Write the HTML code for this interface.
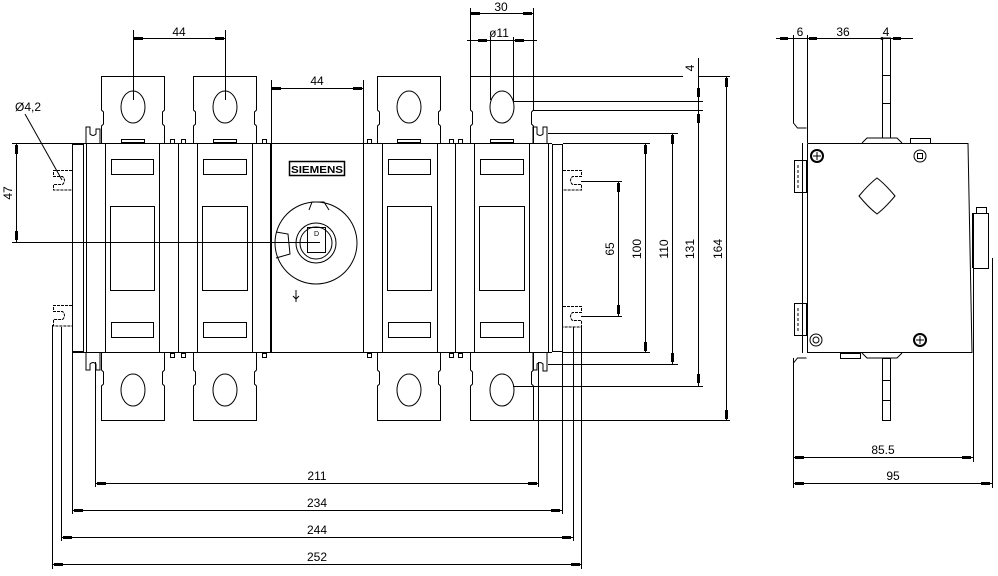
<!DOCTYPE html>
<html><head><meta charset="utf-8"><style>
html,body{margin:0;padding:0;background:#fff;}
svg{display:block;}
text{font-family:"Liberation Sans",sans-serif;font-size:12px;fill:#000;}
</style></head><body>
<svg width="998" height="576" viewBox="0 0 998 576" xmlns="http://www.w3.org/2000/svg">
<g fill="none" stroke="#000" stroke-width="1">
<line x1="72" y1="143.5" x2="552" y2="143.5"/>
<line x1="72" y1="352.5" x2="552" y2="352.5"/>
<rect x="72.5" y="144.5" width="11" height="207"/>
<line x1="86.5" y1="143" x2="86.5" y2="353"/>
<line x1="105.5" y1="143" x2="105.5" y2="353"/>
<line x1="159.5" y1="143" x2="159.5" y2="353"/>
<line x1="178.5" y1="143" x2="178.5" y2="353"/>
<line x1="197.5" y1="143" x2="197.5" y2="353"/>
<line x1="252.5" y1="143" x2="252.5" y2="353"/>
<line x1="271" y1="143" x2="271" y2="353" stroke-width="2"/>
<line x1="363.5" y1="143" x2="363.5" y2="353"/>
<line x1="382.5" y1="143" x2="382.5" y2="353"/>
<line x1="437.5" y1="143" x2="437.5" y2="353"/>
<line x1="455.5" y1="143" x2="455.5" y2="353"/>
<line x1="474.5" y1="143" x2="474.5" y2="353"/>
<line x1="529.5" y1="143" x2="529.5" y2="353"/>
<line x1="548.5" y1="143" x2="548.5" y2="353"/>
<rect x="552.5" y="144.5" width="10" height="207"/>
<rect x="111.5" y="159.5" width="42" height="15"/><rect x="110.5" y="206.5" width="44" height="84"/><rect x="111.5" y="322.5" width="42" height="15"/>
<rect x="203.5" y="159.5" width="43" height="15"/><rect x="202.5" y="206.5" width="45" height="84"/><rect x="203.5" y="322.5" width="43" height="15"/>
<rect x="388.5" y="159.5" width="42" height="15"/><rect x="387.5" y="206.5" width="44" height="84"/><rect x="388.5" y="322.5" width="42" height="15"/>
<rect x="480.5" y="159.5" width="43" height="15"/><rect x="479.5" y="206.5" width="45" height="84"/><rect x="480.5" y="322.5" width="43" height="15"/>
<g id="t1">
<path d="M101.5 143 V126 l2 -2 V112 l-2 -2 V76.5 H164.5 V110 l-2 2 V124 l2 2 V143"/>
<ellipse cx="133" cy="107" rx="12" ry="16"/>
<path d="M101.5 353 V370 l2 2 V384 l-2 2 V420.5 H164.5 V386 l-2 -2 V372 l2 -2 V353"/>
<ellipse cx="133" cy="390" rx="12" ry="16"/>
<rect x="121.5" y="139.5" width="23" height="3"/>
</g>
<use href="#t1" x="92"/>
<use href="#t1" x="276"/>
<use href="#t1" x="369"/>
<g>
<rect x="170.5" y="139.5" width="4" height="4"/><rect x="181.5" y="139.5" width="4" height="4"/><rect x="262.5" y="139.5" width="4" height="4"/>
<rect x="367.5" y="139.5" width="4" height="4"/><rect x="449.5" y="139.5" width="4" height="4"/><rect x="458.5" y="139.5" width="4" height="4"/>
<rect x="170.5" y="353.5" width="4" height="4"/><rect x="181.5" y="353.5" width="4" height="4"/><rect x="262.5" y="353.5" width="4" height="4"/>
<rect x="367.5" y="353.5" width="4" height="4"/><rect x="449.5" y="353.5" width="4" height="4"/><rect x="458.5" y="353.5" width="4" height="4"/>
</g>
<path d="M86 143 V127 h4 v7 q3 3 6 0 v-5 h4 v14"/>
<path d="M86 353 V370 h4 v-6 q3 -3 6 0 v6 h4 v-17"/>
<path d="M533 143 V127 h4 v7 q3 3 6 0 v-7 h4 v16"/>
<path d="M533 353 V370 h4 v-6 q3 -3 6 0 v7 h4 v-18"/>
<path d="M72 170.5 H53.5 v6 h9 q4 4 0 8 h-9 v5.5 H72" stroke-dasharray="3 1"/>
<path d="M72 305.5 H53.5 v6 h9 q4 4 0 8 h-9 v6.5 H72" stroke-dasharray="3 1"/>
<path d="M563 170.5 H581.5 v6 h-9 q-4 4 0 8 h9 v5.5 H563" stroke-dasharray="3 1"/>
<path d="M563 306.5 H581.5 v6 h-9 q-4 4 0 8 h9 v6.5 H563" stroke-dasharray="3 1"/>
<rect x="289.5" y="161.5" width="55" height="14" stroke-width="1.5"/>
<circle cx="316" cy="243" r="41"/>
<circle cx="316" cy="243" r="20"/>
<circle cx="316" cy="243" r="16"/>
<rect x="307.5" y="227.5" width="18" height="25"/>
<path d="M309 210 l3 -8 h12 l5 8"/>
<path d="M276 232 l12 2 l2 20 l-14 4"/>
<path d="M296 290 v12 M293 296 l3 3 l3 -3"/>
<line x1="133.5" y1="30" x2="133.5" y2="100"/>
<line x1="225.5" y1="30" x2="225.5" y2="100"/>
<line x1="133" y1="38.5" x2="225" y2="38.5"/>
<line x1="271.5" y1="80" x2="271.5" y2="143"/>
<line x1="363.5" y1="80" x2="363.5" y2="143"/>
<line x1="271" y1="88.5" x2="363" y2="88.5"/>
<line x1="470.5" y1="8" x2="470.5" y2="77"/>
<line x1="533.5" y1="8" x2="533.5" y2="110"/>
<line x1="470" y1="13.5" x2="533" y2="13.5"/>
<line x1="490.5" y1="37" x2="490.5" y2="100"/>
<line x1="513.5" y1="37" x2="513.5" y2="102"/>
<line x1="467" y1="40.5" x2="537" y2="40.5"/>
<line x1="470" y1="76.5" x2="683" y2="76.5"/>
<line x1="698" y1="76.5" x2="730" y2="76.5"/>
<line x1="513" y1="101.5" x2="703" y2="101.5"/>
<line x1="533" y1="110.5" x2="703" y2="110.5"/>
<line x1="698.5" y1="58" x2="698.5" y2="387"/>
<line x1="726.5" y1="77" x2="726.5" y2="420"/>
<line x1="548" y1="133.5" x2="678" y2="133.5"/>
<line x1="672.5" y1="133" x2="672.5" y2="364"/>
<line x1="563" y1="143.5" x2="650" y2="143.5"/>
<line x1="645.5" y1="143" x2="645.5" y2="353"/>
<line x1="581" y1="181.5" x2="622" y2="181.5"/>
<line x1="618.5" y1="181" x2="618.5" y2="316"/>
<line x1="581" y1="316.5" x2="622" y2="316.5"/>
<line x1="563" y1="352.5" x2="650" y2="352.5"/>
<line x1="548" y1="364.5" x2="678" y2="364.5"/>
<line x1="513" y1="386.5" x2="703" y2="386.5"/>
<line x1="533" y1="420.5" x2="730" y2="420.5"/>
<line x1="12" y1="143.5" x2="72" y2="143.5"/>
<line x1="12" y1="242.5" x2="320" y2="242.5"/>
<line x1="16.5" y1="143" x2="16.5" y2="242"/>
<line x1="25" y1="114" x2="62" y2="180"/>
<line x1="52.5" y1="325" x2="52.5" y2="569"/>
<line x1="61.5" y1="327" x2="61.5" y2="541"/>
<line x1="72.5" y1="352" x2="72.5" y2="514"/>
<line x1="95.5" y1="362" x2="95.5" y2="487"/>
<line x1="538.5" y1="362" x2="538.5" y2="487"/>
<line x1="562.5" y1="352" x2="562.5" y2="514"/>
<line x1="573.5" y1="327" x2="573.5" y2="541"/>
<line x1="581.5" y1="325" x2="581.5" y2="569"/>
<line x1="95" y1="483.5" x2="538" y2="483.5"/>
<line x1="72" y1="510.5" x2="562" y2="510.5"/>
<line x1="61" y1="537.5" x2="573" y2="537.5"/>
<line x1="52" y1="564.5" x2="581" y2="564.5"/>
<path d="M793.5 35 V123 l4 5 h9"/>
<path d="M793.5 420 V363 l4 -5 h9"/>
<line x1="793.5" y1="358" x2="793.5" y2="488"/>
<line x1="802.5" y1="143" x2="802.5" y2="353"/>
<line x1="807.5" y1="35" x2="807.5" y2="143"/>
<path d="M807.5 143.5 H968 L972 353 M807.5 143.5 V352.5 H972"/>
<rect x="794.5" y="160.5" width="12" height="32"/>
<line x1="798" y1="165" x2="798" y2="188" stroke-dasharray="3 2"/>
<rect x="794.5" y="303.5" width="12" height="32"/>
<line x1="798" y1="308" x2="798" y2="331" stroke-dasharray="3 2"/>
<rect x="882.5" y="38" width="8" height="100"/>
<line x1="882" y1="75.5" x2="890" y2="75.5"/><line x1="882" y1="103.5" x2="890" y2="103.5"/>
<rect x="882.5" y="358.5" width="8" height="62"/>
<line x1="882" y1="380.5" x2="890" y2="380.5"/><line x1="882" y1="400.5" x2="890" y2="400.5"/>
<path d="M862 143 l5 -5 h30 l5 5"/><rect x="910.5" y="138.5" width="20" height="5"/>
<path d="M862 353 l5 5 h30 l5 -5"/><rect x="840.5" y="353.5" width="20" height="5"/>
<rect x="973.5" y="213.5" width="15" height="55"/>
<line x1="973" y1="213" x2="973" y2="268" stroke-width="2"/>
<rect x="976.5" y="207.5" width="10" height="6"/>
<path d="M877 178 Q885 184 895 196 Q885 208 877 214 Q869 208 859 196 Q869 184 877 178 Z"/>
<circle cx="817" cy="156" r="6" stroke-width="2"/><path d="M817 152 v8 M813 156 h8"/>
<circle cx="920" cy="156" r="6"/><rect x="917.5" y="153.5" width="5" height="5"/>
<circle cx="816" cy="340" r="6"/><circle cx="816" cy="340" r="3"/>
<circle cx="920" cy="340" r="6" stroke-width="2"/><path d="M920 336 v8 M916 340 h8"/>
<line x1="973.5" y1="268" x2="973.5" y2="462"/>
<line x1="992.5" y1="258" x2="992.5" y2="488"/>
<line x1="793" y1="457.5" x2="973" y2="457.5"/>
<line x1="793" y1="483.5" x2="992" y2="483.5"/>
<line x1="776" y1="38.5" x2="913" y2="38.5"/>
</g>
<g fill="#000">
<rect x="134" y="37" width="9" height="3"/><rect x="215" y="37" width="9" height="3"/>
<rect x="272" y="87" width="9" height="3"/><rect x="353" y="87" width="9" height="3"/>
<rect x="471" y="12" width="9" height="3"/><rect x="523" y="12" width="9" height="3"/>
<rect x="478" y="39" width="9" height="3"/><rect x="515" y="39" width="9" height="3"/>
<rect x="697" y="88" width="3" height="9"/><rect x="697" y="114" width="3" height="9"/>
<rect x="725" y="78" width="3" height="9"/><rect x="725" y="410" width="3" height="9"/>
<rect x="697" y="374" width="3" height="9"/>
<rect x="671" y="135" width="3" height="9"/><rect x="671" y="353" width="3" height="9"/>
<rect x="644" y="145" width="3" height="9"/><rect x="644" y="342" width="3" height="9"/>
<rect x="617" y="183" width="3" height="9"/><rect x="617" y="305" width="3" height="9"/>
<rect x="15" y="145" width="3" height="9"/><rect x="15" y="231" width="3" height="9"/>
<rect x="97" y="482" width="9" height="3"/><rect x="528" y="482" width="9" height="3"/>
<rect x="74" y="509" width="9" height="3"/><rect x="551" y="509" width="9" height="3"/>
<rect x="63" y="536" width="9" height="3"/><rect x="562" y="536" width="9" height="3"/>
<rect x="54" y="563" width="9" height="3"/><rect x="571" y="563" width="9" height="3"/>
<rect x="795" y="456" width="9" height="3"/><rect x="962" y="456" width="9" height="3"/>
<rect x="795" y="482" width="9" height="3"/><rect x="981" y="482" width="9" height="3"/>
<rect x="780" y="37" width="8" height="3"/><rect x="809" y="37" width="8" height="3"/><rect x="893" y="37" width="8" height="3"/>
<circle cx="882" cy="38.5" r="1.5"/>
</g>
<text x="179" y="36" text-anchor="middle">44</text>
<text x="317" y="85" text-anchor="middle">44</text>
<text x="501" y="11" text-anchor="middle">30</text>
<text x="499" y="37" text-anchor="middle">ø11</text>
<text x="291" y="173" style="font-size:10px;font-weight:bold" textLength="52" lengthAdjust="spacingAndGlyphs">SIEMENS</text>
<text x="314" y="236" style="font-size:7px">D</text>
<text x="28" y="111" text-anchor="middle">Ø4,2</text>
<text transform="translate(12,193) rotate(-90)" text-anchor="middle">47</text>
<text transform="translate(614,249) rotate(-90)" text-anchor="middle">65</text>
<text transform="translate(641,249) rotate(-90)" text-anchor="middle">100</text>
<text transform="translate(668,249) rotate(-90)" text-anchor="middle">110</text>
<text transform="translate(694,249) rotate(-90)" text-anchor="middle">131</text>
<text transform="translate(722,249) rotate(-90)" text-anchor="middle">164</text>
<text transform="translate(694,68) rotate(-90)" text-anchor="middle">4</text>
<text x="317" y="480" text-anchor="middle">211</text>
<text x="317" y="507" text-anchor="middle">234</text>
<text x="317" y="534" text-anchor="middle">244</text>
<text x="317" y="561" text-anchor="middle">252</text>
<text x="800" y="36" text-anchor="middle">6</text>
<text x="843" y="36" text-anchor="middle">36</text>
<text x="886" y="36" text-anchor="middle">4</text>
<text x="883" y="454" text-anchor="middle">85.5</text>
<text x="893" y="480" text-anchor="middle">95</text>
</svg>
</body></html>
